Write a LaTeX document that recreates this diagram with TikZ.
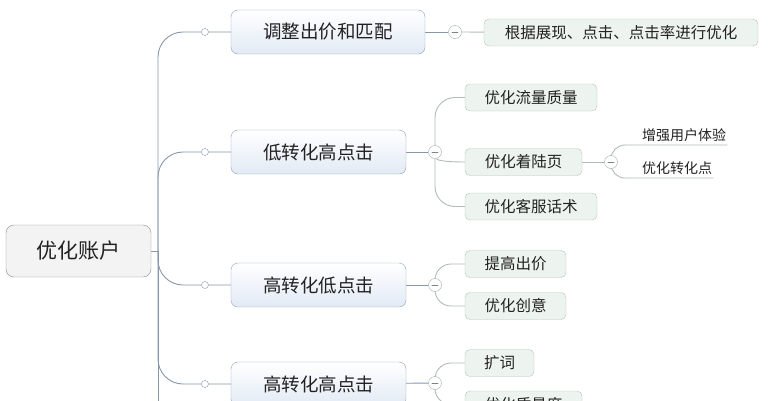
\documentclass[tikz,border=0pt]{standalone}
\usepackage{fontspec}
\newfontfamily\cjk{Noto Sans CJK SC}
\usetikzlibrary{backgrounds}
\definecolor{rootline}{HTML}{8A8A8A}
\definecolor{rootfill}{HTML}{F3F3F3}
\definecolor{topicline}{HTML}{8EA2BC}
\definecolor{topicfill}{HTML}{E2EAF5}
\definecolor{subline}{HTML}{B4C5B9}
\definecolor{subfill}{HTML}{EDF3EE}
\definecolor{trunkcol}{HTML}{8597AD}
\definecolor{twigcol}{HTML}{AEBCB5}
\definecolor{inkcol}{HTML}{222222}
\tikzset{
	rootbox/.style={draw=rootline,fill=rootfill,rounded corners=8pt,minimum width=145pt,minimum height=52pt,text=inkcol,font=\cjk\fontsize{21}{21}\selectfont},
	topic/.style={draw=topicline,top color=white,bottom color=topicfill,rounded corners=7pt,minimum height=44pt,text=inkcol,font=\cjk\fontsize{18.5}{18.5}\selectfont},
	subbox/.style={draw=subline,fill=subfill,rounded corners=5pt,minimum height=27pt,text=inkcol,font=\cjk\fontsize{15.5}{15.5}\selectfont},
	leaf/.style={anchor=south west,inner xsep=1pt,inner ysep=3pt,text=inkcol,font=\cjk\fontsize{14}{14}\selectfont},
	knob/.style={circle,draw=trunkcol,fill=white,inner sep=0pt,minimum size=7pt},
	fold/.style={circle,draw=twigcol!90!black,fill=white,inner sep=0pt,minimum size=13pt,
		path picture={\draw[twigcol!70!black,line width=0.8pt] ([xshift=-3pt]path picture bounding box.center) -- ([xshift=3pt]path picture bounding box.center);}},
	trunk/.style={draw=trunkcol,line width=0.9pt},
	twig/.style={draw=twigcol,line width=0.9pt},
}
\begin{document}
\begin{tikzpicture}[x=1pt,y=-1pt,line cap=round]
	\useasboundingbox (0,0) rectangle (769,400);
	% main nodes
	\node[rootbox] (root) at (78.5,251) {优化账户};
	\node[topic,minimum width=194pt] (bid) at (328,32) {调整出价和匹配};
	\node[topic,minimum width=175pt] (lowcv) at (318.5,152) {低转化高点击};
	\node[topic,minimum width=175pt] (lowclk) at (318.5,285) {高转化低点击};
	\node[topic,minimum width=175pt] (high) at (318.5,384) {高转化高点击};
	\node[knob] (k1) at (205,32) {};
	\node[knob] (k2) at (205,152) {};
	\node[knob] (k3) at (205,285) {};
	\node[knob] (k4) at (205,384) {};
	\coordinate (hub) at (158,251);
	\coordinate (more) at (158,430);
	% second level
	\node[fold] (m1) at (455,32) {};
	\node[fold] (m2) at (435,152) {};
	\node[fold] (m3) at (435,285) {};
	\node[fold] (m4) at (435,383) {};
	\node[subbox,minimum width=274pt] (rate) at (621,32.5) {根据展现、点击、点击率进行优化};
	\node[subbox,minimum width=132pt] (flow) at (531,97.5) {优化流量质量};
	\node[subbox,minimum width=117pt] (land) at (523.5,162) {优化着陆页};
	\node[subbox,minimum width=132pt] (talk) at (531,206.5) {优化客服话术};
	\node[subbox,minimum width=101pt] (raise) at (515.5,264) {提高出价};
	\node[subbox,minimum width=101pt] (idea) at (515.5,306) {优化创意};
	\node[subbox,minimum width=69pt] (words) at (499.5,363) {扩词};
	\node[subbox,minimum width=117pt] (score) at (523.5,404.5) {优化质量度};
	% third level
	\node[fold] (m5) at (611,162) {};
	\node[leaf] (ux) at (641,145) {增强用户体验};
	\node[leaf] (point) at (641,178) {优化转化点};
	\begin{scope}[on background layer]
		\draw[trunk] (root.east) -- (hub) -- (more);
		\foreach \k/\t in {k1/bid,k2/lowcv,k3/lowclk,k4/high}
			\draw[trunk,rounded corners=25pt] (hub) |- (\k) -- (\t);
		\draw[trunk] (bid) -- (m1);
		\draw[twig] (m1) -- (rate);
		\foreach \m/\t in {lowcv/m2,lowclk/m3,high/m4}
			\draw[trunk] (\m) -- (\t);
		\draw[twig,rounded corners=20pt] (m2) |- (flow.west);
		\draw[twig] (m2) .. controls +(2,9) and +(-14,0) .. (land.west);
		\draw[twig,rounded corners=20pt] (m2) |- (talk.west);
		\draw[twig,rounded corners=16pt] (m3) |- (raise.west);
		\draw[twig,rounded corners=16pt] (m3) |- (idea.west);
		\draw[twig,rounded corners=16pt] (m4) |- (words.west);
		\draw[twig,rounded corners=16pt] (m4) |- (score.west);
		\draw[twig] (land) -- (m5);
		\draw[twig,rounded corners=14pt] (m5) |- (ux.south west) -- (ux.south east);
		\draw[twig,rounded corners=14pt] (m5) |- (point.south west) -- (point.south east);
	\end{scope}
\end{tikzpicture}
\end{document}
